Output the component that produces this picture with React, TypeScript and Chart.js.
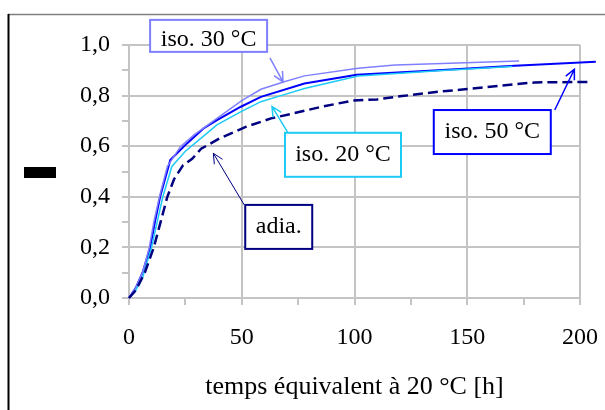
import React, { useEffect, useRef } from "react";
import { Chart, registerables } from "chart.js";

Chart.register(...registerables);

const iso30X = [0, 3, 6, 9, 11, 13.5, 17, 22.8, 28.7, 39, 50, 58.5, 68.8, 77.8, 101.6, 118, 139, 173];
const iso30Y = [0, 0.04, 0.1, 0.2, 0.3, 0.4, 0.52, 0.598, 0.644, 0.71, 0.78, 0.825, 0.855, 0.878, 0.908, 0.921, 0.927, 0.937];

const iso50X = [0, 3, 6, 9.4, 11.5, 13.8, 18.3, 25.7, 33, 39, 49.6, 58.5, 77.8, 101, 139, 171, 207];
const iso50Y = [0, 0.04, 0.1, 0.2, 0.3, 0.4, 0.545, 0.611, 0.67, 0.703, 0.756, 0.795, 0.848, 0.882, 0.901, 0.918, 0.934];

const iso20X = [0, 3, 6, 10, 12.5, 15, 19, 25, 31.7, 39, 49.5, 58.5, 67.4, 77.8, 101.6, 139, 170];
const iso20Y = [0, 0.03, 0.08, 0.2, 0.3, 0.4, 0.52, 0.58, 0.63, 0.684, 0.736, 0.776, 0.8, 0.828, 0.877, 0.899, 0.915];

const adiaX = [0, 3, 7, 11, 14, 17, 20, 24, 28, 32, 40, 52, 63, 73, 85, 99, 110, 121, 137, 150, 171, 180, 204];
const adiaY = [0, 0.03, 0.1, 0.2, 0.3, 0.4, 0.47, 0.525, 0.55, 0.59, 0.63, 0.677, 0.71, 0.73, 0.755, 0.78, 0.785, 0.798, 0.815, 0.826, 0.845, 0.852, 0.854];

const xTickLabels = ["0", "50", "100", "150", "200"];
const yTickLabels = ["0,0", "0,2", "0,4", "0,6", "0,8", "1,0"];
const xMinorTicks = [25, 75, 125, 175];
const yMinorTicks = [0.1, 0.3, 0.5, 0.7, 0.9];

const xTitle = "temps équivalent à 20 °C [h]";

// annotation labels: box centre and arrow in data units
const annotations = [
  { text: "iso. 30 °C", color: "#8080ff", cx: 35.3, cy: 1.036, w: 117, h: 32, ax: 62.5, ay: 0.949, tx: 68.3, ty: 0.854, lw: 1.5 },
  { text: "iso. 20 °C", color: "#1ecbf5", cx: 94.9, cy: 0.566, w: 116, h: 44, ax: 70.5, ay: 0.653, tx: 63.4, ty: 0.757, lw: 1.5 },
  { text: "iso. 50 °C", color: "#0000ff", cx: 161.1, cy: 0.656, w: 117, h: 44, ax: 188.8, ay: 0.743, tx: 197.5, ty: 0.904, lw: 1.5 },
  { text: "adia.", color: "#000080", cx: 66.4, cy: 0.281, w: 67, h: 44, ax: 51.1, ay: 0.368, tx: 37.4, ty: 0.572, lw: 1 },
];

const zip = (xs: number[], ys: number[]) => xs.map((x, i) => ({ x, y: ys[i] }));

const GRID = "#c4c4c4";
const FONT = "'Liberation Serif', 'Times New Roman', serif";

export default function App() {
  const ref = useRef<HTMLCanvasElement>(null);

  useEffect(() => {
    const canvas = ref.current!;
    const framePlugin = {
      id: "frame",
      beforeDraw(chart: any) {
        const ctx = chart.ctx;
        ctx.save();
        ctx.fillStyle = "#ffffff";
        ctx.fillRect(0, 0, chart.width, chart.height);
        ctx.strokeStyle = "#808080";
        ctx.lineWidth = 1.3;
        ctx.beginPath();
        ctx.moveTo(8, 14.5);
        ctx.lineTo(chart.width, 14.5);
        ctx.stroke();
        ctx.strokeStyle = "#000000";
        ctx.lineWidth = 2;
        ctx.beginPath();
        ctx.moveTo(8.5, 14);
        ctx.lineTo(8.5, chart.height);
        ctx.stroke();
        // y-axis title block
        ctx.fillStyle = "#000000";
        ctx.fillRect(24, 167, 32, 11);
        ctx.restore();
      },
      beforeDatasetsDraw(chart: any) {
        // minor tick marks
        const ctx = chart.ctx;
        const xs = chart.scales.x;
        const ys = chart.scales.y;
        const ca = chart.chartArea;
        ctx.save();
        ctx.strokeStyle = GRID;
        ctx.lineWidth = 2;
        ctx.beginPath();
        for (const v of xMinorTicks) {
          const px = Math.round(xs.getPixelForValue(v));
          ctx.moveTo(px, ca.bottom);
          ctx.lineTo(px, ca.bottom + 7);
        }
        for (const v of yMinorTicks) {
          const py = Math.round(ys.getPixelForValue(v));
          ctx.moveTo(ca.left - 7, py);
          ctx.lineTo(ca.left, py);
        }
        ctx.stroke();
        ctx.restore();
      },
    };
    const annPlugin = {
      id: "ann",
      afterDraw(chart: any) {
        const ctx = chart.ctx;
        const xs = chart.scales.x;
        const ys = chart.scales.y;
        ctx.save();
        for (const a of annotations) {
          const cx = xs.getPixelForValue(a.cx);
          const cy = ys.getPixelForValue(a.cy);
          const ax = xs.getPixelForValue(a.ax);
          const ay = ys.getPixelForValue(a.ay);
          const tx = xs.getPixelForValue(a.tx);
          const ty = ys.getPixelForValue(a.ty);
          ctx.strokeStyle = a.color;
          ctx.lineWidth = a.lw;
          ctx.beginPath();
          ctx.moveTo(ax, ay);
          ctx.lineTo(tx, ty);
          const ang = Math.atan2(ty - ay, tx - ax);
          const L = 11;
          const s = 0.45;
          ctx.moveTo(tx - L * Math.cos(ang - s), ty - L * Math.sin(ang - s));
          ctx.lineTo(tx, ty);
          ctx.lineTo(tx - L * Math.cos(ang + s), ty - L * Math.sin(ang + s));
          ctx.stroke();
          ctx.fillStyle = "#ffffff";
          ctx.fillRect(cx - a.w / 2, cy - a.h / 2, a.w, a.h);
          ctx.lineWidth = 2;
          ctx.strokeRect(cx - a.w / 2, cy - a.h / 2, a.w, a.h);
          ctx.fillStyle = "#000000";
          ctx.font = `24px ${FONT}`;
          ctx.textAlign = "center";
          ctx.textBaseline = "middle";
          ctx.fillText(a.text, cx, cy + (a.h < 40 ? 4 : 0));
        }
        ctx.restore();
      },
    };

    const chart = new Chart(canvas, {
      type: "line",
      data: {
        datasets: [
          { label: "adia.", data: zip(adiaX, adiaY), borderColor: "#000080", borderWidth: 2.5, borderDash: [10, 5], clip: false as any },
          { label: "iso. 20 °C", data: zip(iso20X, iso20Y), borderColor: "#1ecbf5", borderWidth: 1.5 },
          { label: "iso. 30 °C", data: zip(iso30X, iso30Y), borderColor: "#8080ff", borderWidth: 1.5 },
          { label: "iso. 50 °C", data: zip(iso50X, iso50Y), borderColor: "#0000ff", borderWidth: 2, clip: false as any },
        ],
      },
      options: {
        animation: false,
        responsive: false,
        devicePixelRatio: 1,
        layout: { padding: { left: 0, top: 45, right: 25, bottom: 0 } },
        elements: { point: { radius: 0 }, line: { tension: 0 } },
        plugins: { legend: { display: false }, tooltip: { enabled: false } },
        scales: {
          x: {
            type: "linear",
            min: 0,
            max: 200,
            afterFit: (s: any) => { s.height = 112; s.paddingLeft = 0; s.paddingRight = 0; },
            ticks: {
              stepSize: 50,
              autoSkip: false,
              maxRotation: 0,
              padding: 18,
              color: "#000",
              font: { family: FONT, size: 24 },
              callback: (_v: any, i: number) => xTickLabels[i],
            },
            grid: { color: GRID, tickColor: GRID, tickLength: 7, lineWidth: 2 },
            border: { color: GRID, width: 2 },
            title: {
              display: true,
              text: xTitle,
              color: "#000",
              font: { family: FONT, size: 26 },
              padding: { top: 0, bottom: 7 },
            },
          },
          y: {
            type: "linear",
            min: 0,
            max: 1,
            afterFit: (s: any) => { s.width = 129; s.paddingTop = 0; s.paddingBottom = 0; },
            ticks: {
              stepSize: 0.2,
              autoSkip: false,
              padding: 12,
              color: "#000",
              font: { family: FONT, size: 24 },
              callback: (_v: any, i: number) => yTickLabels[i],
            },
            grid: { color: GRID, tickColor: GRID, tickLength: 7, lineWidth: 2 },
            border: { color: GRID, width: 2 },
          },
        },
      } as any,
      plugins: [framePlugin, annPlugin],
    });
    return () => chart.destroy();
  }, []);

  return (
    <div style={{ position: "absolute", left: 0, top: 0, width: 605, height: 410 }}>
      <canvas ref={ref} width={605} height={410} />
    </div>
  );
}
